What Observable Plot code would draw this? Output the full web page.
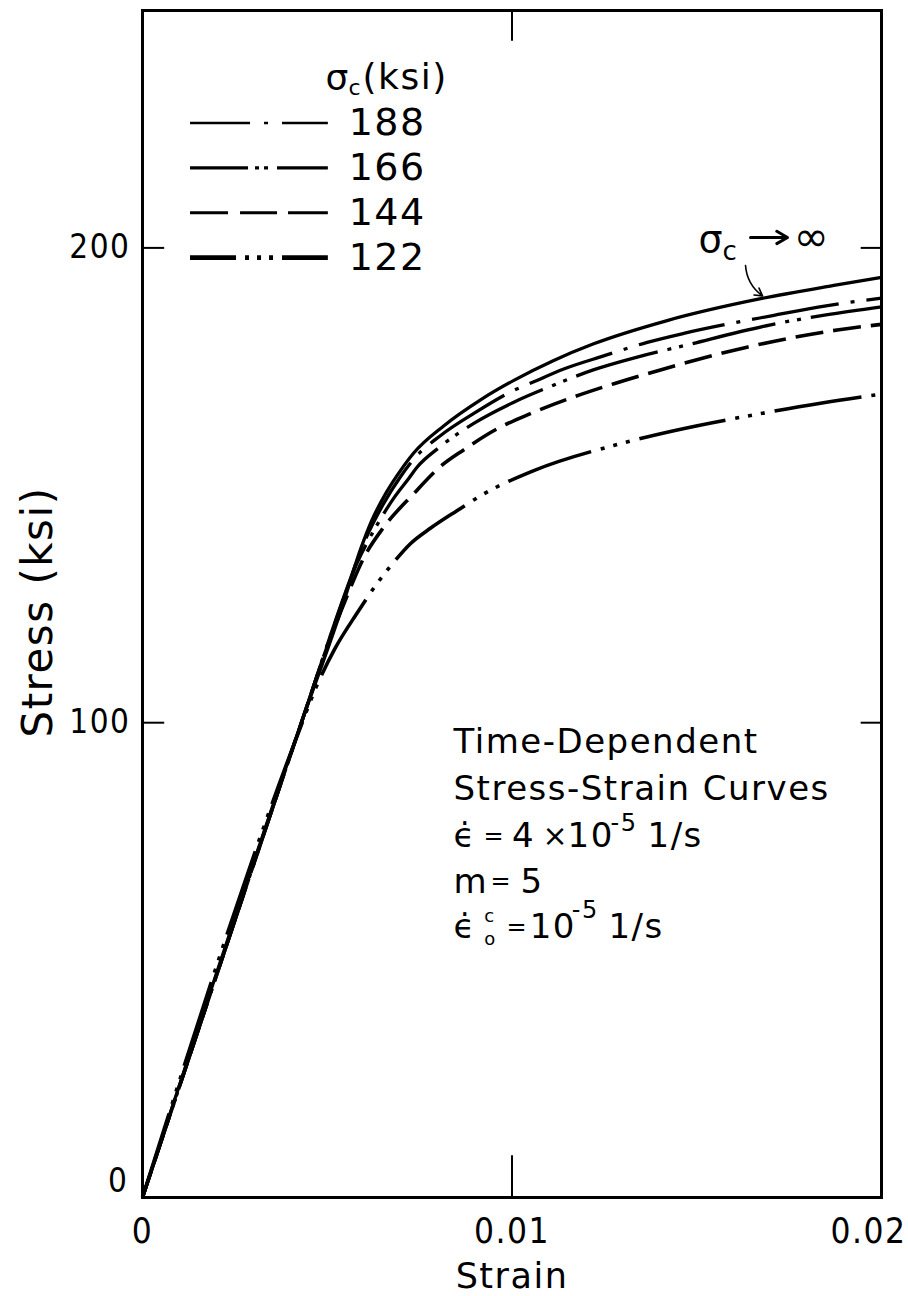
<!DOCTYPE html>
<html><head><meta charset="utf-8">
<script src="https://cdn.jsdelivr.net/npm/d3@7"></script>
<script src="https://cdn.jsdelivr.net/npm/@observablehq/plot@0.6"></script>
<style>body{margin:0;background:#fff}</style>
</head><body><div id="chart"></div>
<script>
// ---- data ----
const xTicks = [0, 0.01, 0.02];
const yTicks = [0, 100, 200];
const legendLabels = ["188", "166", "144", "122"];

const strainInf = [0, 0.0043, 0.0054, 0.0059, 0.0062, 0.0066, 0.0070, 0.00734, 0.00815, 0.00915, 0.01005, 0.01113, 0.01221, 0.0142, 0.01673, 0.01871, 0.02];
const stressInf = [0, 100, 124.3, 136.5, 142.5, 148.5, 153.3, 156.8, 162.5, 168.0, 172.1, 176.3, 179.8, 184.7, 189.3, 192.1, 193.8];

const strain188 = [0, 0.0043, 0.0055, 0.0060, 0.0065, 0.0070, 0.00734, 0.00807, 0.009, 0.01, 0.01059, 0.0114, 0.0125, 0.01366, 0.01465, 0.01709, 0.0185, 0.02];
const stress188 = [0, 100, 127.6, 138, 145.8, 152, 155.5, 160.5, 165.3, 169.8, 171.8, 174.5, 177.3, 180.1, 182, 185.8, 187.8, 189.4];

const strain166 = [0, 0.0043, 0.0053, 0.0058, 0.0063, 0.0068, 0.00721, 0.00743, 0.008, 0.009, 0.01005, 0.01113, 0.0122, 0.01339, 0.01465, 0.017, 0.0185, 0.02];
const stress166 = [0, 100, 123, 133.5, 141, 147.3, 151.5, 153.8, 157.8, 163.2, 167.5, 171.1, 174.3, 177, 179.4, 183.8, 185.9, 187.6];

const strain144 = [0, 0.0043, 0.0050, 0.0055, 0.0060, 0.00653, 0.0073, 0.00807, 0.0087, 0.0096, 0.0105, 0.01167, 0.01276, 0.01397, 0.01636, 0.0188, 0.02];
const stress144 = [0, 100, 116, 126, 134.9, 141.2, 147.9, 154, 157.5, 161.9, 165.1, 168.6, 171.4, 174.2, 179.1, 182.7, 183.9];

const strain122 = [0, 0.0042, 0.0047, 0.0052, 0.0058, 0.0063, 0.0068, 0.00725, 0.0078, 0.0085, 0.00924, 0.01059, 0.01275, 0.01438, 0.01673, 0.01835, 0.02];
const stress122 = [0, 97.5, 107.5, 115.5, 123, 128.8, 133.8, 137.7, 141, 144.6, 148.2, 153.1, 158.4, 161.5, 165.1, 167.3, 169.2];

// ---- table built from the arrays ----
const rows = [];
function add(name, xs, ys) { xs.forEach((x, i) => rows.push({series: name, strain: x, stress: ys[i]})); }
add("122", strain122, stress122);
add("144", strain144, stress144);
add("166", strain166, stress166);
add("188", strain188, stress188);
add("inf", strainInf, stressInf);

// ---- styles ----
const curveStyle = {
  "122": {dash: "88,10,4,9,4,9,4,10", w: 3.6},
  "144": {dash: "28,10", w: 3.6},
  "166": {dash: "85,10,4,8,4,10", w: 3.3},
  "188": {dash: "88,12,4,12", w: 3.3},
  "inf": {dash: null, w: 3.3}
};
const legendStyle = {
  "188": {dash: "60,14,4,14,200", w: 2.6},
  "166": {dash: "58,7,4,5,4,9,200", w: 3.2},
  "144": {dash: "38,12,37,11,200", w: 3.2},
  "122": {dash: "46,9,4,8,4,8,4,9,200", w: 4.6}
};
const FONT = "DejaVu Sans, Verdana, sans-serif";
const NARROW = "DejaVu Sans Condensed, DejaVu Sans, sans-serif";

function txt(t, x, y, fs, opts = {}) {
  return Plot.text([{x, y, t}], {x: "x", y: "y", text: "t", fontSize: fs, textAnchor: "start", lineAnchor: "middle", fill: "black", ...opts});
}
const legendY = (i) => 226.3 - i * 9.45;
const fmtX = d => d === 0 ? "0" : d3.format(".2f")(d);

const marks = [
  // curves
  ...["122", "144", "166", "188", "inf"].map(s => Plot.line(rows.filter(r => r.series === s), {
    x: "strain", y: "stress", curve: "monotone-x", stroke: "black",
    strokeWidth: curveStyle[s].w, strokeDasharray: curveStyle[s].dash, strokeLinecap: "butt"
  })),
  // frame & inner ticks
  Plot.frame({stroke: "black", strokeWidth: 3}),
  Plot.ruleX([0.01], {y1: 0, y2: 8.8, stroke: "black", strokeWidth: 2}),
  Plot.ruleX([0.01], {y1: 243.5, y2: 250, stroke: "black", strokeWidth: 2}),
  Plot.ruleY([100, 200], {x1: 0, x2: 0.0006, stroke: "black", strokeWidth: 2}),
  Plot.ruleY([100, 200], {x1: 0.01945, x2: 0.02, stroke: "black", strokeWidth: 2}),
  // tick labels
  Plot.text(yTicks.slice(0, 1), {x: 0, y: d => d, text: d => String(d), textAnchor: "end", dx: -14, dy: -16, fontSize: 33, lineAnchor: "middle", fontFamily: NARROW, fill: "black"}),
  Plot.text(yTicks.slice(1), {x: 0, y: d => d, text: d => String(d), textAnchor: "end", dx: -12, fontSize: 33, lineAnchor: "middle", fontFamily: NARROW, fill: "black"}),
  Plot.text(xTicks.slice(0, 2), {x: d => d, y: 0, text: fmtX, textAnchor: "middle", dy: 34, fontSize: 35, lineAnchor: "middle", fontFamily: NARROW, fill: "black"}),
  Plot.text(xTicks.slice(2), {x: d => d, y: 0, text: fmtX, textAnchor: "end", dx: 25, dy: 34, fontSize: 35, lineAnchor: "middle", fontFamily: NARROW, fill: "black"}),
  // legend
  ...legendLabels.map((l, i) => Plot.ruleY([legendY(i)], {x1: 0.0013, x2: 0.00503, stroke: "black", strokeWidth: legendStyle[l].w, strokeDasharray: legendStyle[l].dash})),
  Plot.text(legendLabels, {x: 0.00558, y: (d, i) => legendY(i), text: d => d, fontSize: 38, textAnchor: "start", lineAnchor: "middle", fill: "black"}),
  txt("σ", 0.004953, 235.6, 36),
  txt("c", 0.005575, 233.6, 22),
  txt("(ksi)", 0.005954, 235.8, 36),
  // annotation sigma_c -> infinity
  txt("σ", 0.015047, 201.7, 38),
  txt("c", 0.015697, 199.2, 26),
  Plot.arrow([{x1: 0.016455, y1: 202.2, x2: 0.017456, y2: 202.2}], {x1: "x1", y1: "y1", x2: "x2", y2: "y2", stroke: "black", strokeWidth: 3, headLength: 9}),
  txt("∞", 0.01762, 202.2, 42),
  Plot.arrow([{x1: 0.01632, y1: 196.3, x2: 0.01678, y2: 189.9}], {x1: "x1", y1: "y1", x2: "x2", y2: "y2", stroke: "black", strokeWidth: 1.6, headLength: 8, bend: -25}),
  // text block
  txt("Time-Dependent", 0.008417, 95.81, 34),
  txt("Stress-Strain Curves", 0.008417, 85.91, 34),
  txt("ϵ\u0307", 0.008417, 76.01, 34),
  txt("=", 0.009229, 76.01, 24),
  txt("4", 0.010000, 76.01, 34),
  txt("×", 0.010825, 76.01, 30),
  txt("10", 0.011502, 76.01, 34),
  txt("-5", 0.012666, 78.77, 24),
  txt("1/s", 0.013667, 76.01, 34),
  txt("m", 0.008417, 66.53, 34),
  txt("=", 0.009418, 66.53, 24),
  txt("5", 0.010230, 66.53, 34),
  txt("ϵ\u0307", 0.008417, 56.85, 34),
  txt("c", 0.009250, 59.3, 18),
  txt("o", 0.009250, 54.4, 18),
  txt("=", 0.009850, 56.85, 24),
  txt("10", 0.010480, 56.85, 34),
  txt("-5", 0.011620, 60.55, 24),
  txt("1/s", 0.012610, 56.85, 34),
  // axis titles
  Plot.text(["Strain"], {frameAnchor: "bottom", dy: 79, text: d => d, fontSize: 35, lineAnchor: "middle", textAnchor: "middle", fill: "black"}),
  Plot.text(["Stress (ksi)"], {frameAnchor: "left", dx: -104, dy: 8, rotate: -90, text: d => d, fontSize: 42, lineAnchor: "middle", textAnchor: "middle", fill: "black"})
];

const chart = Plot.plot({
  width: 908, height: 1296,
  marginLeft: 142, marginRight: 27, marginTop: 10, marginBottom: 99,
  style: {fontFamily: FONT, fontSize: "34px", letterSpacing: "1.5px", background: "white", color: "black", overflow: "visible"},
  x: {domain: [0, 0.02], axis: null},
  y: {domain: [0, 250], axis: null},
  marks
});
document.getElementById("chart").appendChild(chart);
</script>
</body></html>
